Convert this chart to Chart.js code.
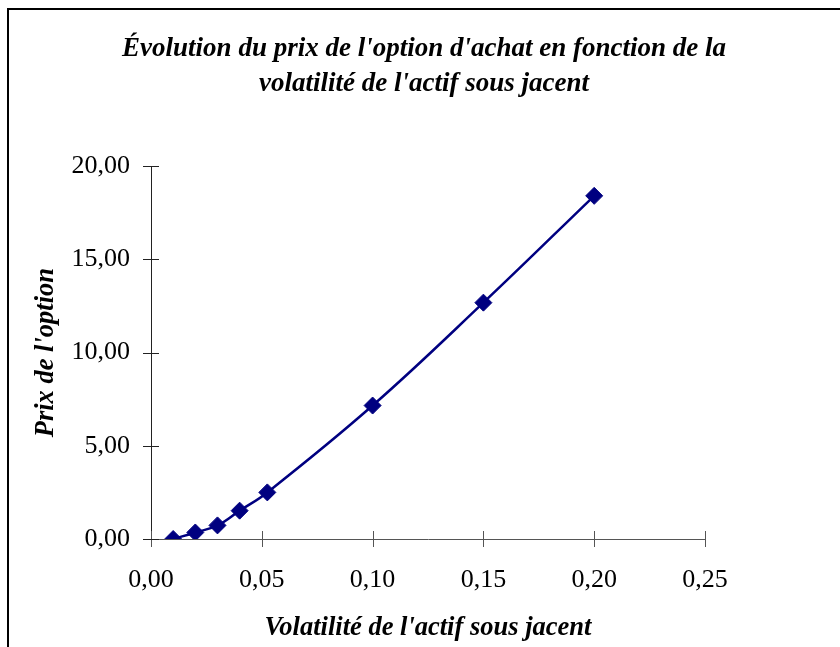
<!DOCTYPE html>
<html lang="fr">
<head>
<meta charset="utf-8">
<title>Évolution du prix de l'option d'achat</title>
<script src="https://cdn.jsdelivr.net/npm/chart.js@4/dist/chart.umd.min.js"></script>
<style>
  html, body { margin: 0; padding: 0; background: #fff; overflow: hidden; }
  #wrap { position: relative; width: 840px; height: 647px; }
  #frame {
    position: absolute; left: 7px; top: 8px; width: 1000px; height: 1000px;
    border-left: 2px solid #000; border-top: 2px solid #000;
  }
  #chartBox { position: absolute; left: 0; top: 0; width: 840px; height: 647px; }
</style>
</head>
<body>
<div id="wrap">
  <div id="frame"></div>
  <div id="chartBox"><canvas id="optionChart"></canvas></div>
</div>
<script>
// ==============================
// DATA
// ==============================
const titre = ["Évolution du prix de l'option d'achat en fonction de la", "volatilité de l'actif sous jacent"];
const titreX = "Volatilité de l'actif sous jacent";
const titreY = "Prix de l'option";

const volatilite = [0.01, 0.02, 0.03, 0.04, 0.0525, 0.10, 0.15, 0.20];
const prix = [0.00, 0.35, 0.73, 1.52, 2.50, 7.16, 12.68, 18.41];

const ticksX = [0, 0.05, 0.10, 0.15, 0.20, 0.25];
const ticksY = [0, 5, 10, 15, 20];

// ==============================
// STYLE
// ==============================
const SERIF = "'Liberation Serif', 'Times New Roman', serif";
const NAVY = "#000080";

const fmt = v => Number(v).toFixed(2).replace(".", ",");

// ticks that cross the axis line (Excel "cross" style)
const crossTicks = {
  id: "crossTicks",
  beforeDatasetsDraw(chart) {
    const { ctx, scales } = chart;
    const len = 8;
    ctx.save();
    ctx.lineWidth = 1;

    const x = scales.x, y = scales.y;
    const y0 = y.getPixelForValue(0);
    const x0 = x.getPixelForValue(0);

    ctx.strokeStyle = "#555";
    ticksX.forEach(v => {
      const px = Math.round(x.getPixelForValue(v)) + 0.5;
      ctx.beginPath();
      ctx.moveTo(px, y0 - len);
      ctx.lineTo(px, y0 + len);
      ctx.stroke();
    });

    ctx.strokeStyle = "#222";
    ticksY.forEach(v => {
      const py = Math.round(y.getPixelForValue(v)) + 0.5;
      ctx.beginPath();
      ctx.moveTo(x0 - len, py);
      ctx.lineTo(x0 + len, py);
      ctx.stroke();
    });
    ctx.restore();
  }
};

// ==============================
// CHART
// ==============================
const ctx = document.getElementById("optionChart").getContext("2d");

new Chart(ctx, {
  type: "scatter",
  data: {
    datasets: [{
      label: titreY,
      data: volatilite.map((v, i) => ({ x: v, y: prix[i] })),
      showLine: true,
      borderColor: NAVY,
      backgroundColor: NAVY,
      borderWidth: 2.5,
      tension: 0.4,
      pointStyle: "rectRot",
      pointRadius: 8.5,
      pointBorderWidth: 1,
      pointBorderColor: NAVY,
      pointBackgroundColor: NAVY
    }]
  },
  options: {
    responsive: true,
    maintainAspectRatio: false,
    animation: false,
    layout: { padding: { left: 8, right: 0, top: 0, bottom: 0 } },
    plugins: {
      legend: { display: false },
      tooltip: { enabled: false },
      title: {
        display: true,
        text: titre,
        color: "#000",
        font: { family: SERIF, size: 27, style: "italic", weight: "bold", lineHeight: 1.3 },
        padding: { top: 31, bottom: 65 }
      }
    },
    scales: {
      x: {
        type: "linear",
        min: 0,
        max: 0.25,
        afterBuildTicks: s => { s.ticks = ticksX.map(v => ({ value: v })); },
        afterFit: s => { s.height = 108; },
        grid: { display: false },
        border: { display: true, color: "#555", width: 1 },
        ticks: {
          color: "#000",
          padding: 18,
          font: { family: SERIF, size: 26 },
          maxRotation: 0,
          callback: v => fmt(v)
        },
        title: {
          display: true,
          text: titreX,
          color: "#000",
          font: { family: SERIF, size: 26.5, style: "italic", weight: "bold" },
          padding: { top: 3, bottom: 3 }
        }
      },
      y: {
        type: "linear",
        min: 0,
        max: 20,
        afterBuildTicks: s => { s.ticks = ticksY.map(v => ({ value: v })); },
        afterFit: s => { s.width = 143; },
        grid: { display: false },
        border: { display: true, color: "#222", width: 1 },
        ticks: {
          color: "#000",
          padding: 13,
          font: { family: SERIF, size: 26 },
          callback: v => fmt(v)
        },
        title: {
          display: true,
          text: titreY,
          color: "#000",
          font: { family: SERIF, size: 26.5, style: "italic", weight: "bold" },
          padding: { top: 22, bottom: 22 }
        }
      },
      y2: {
        type: "linear",
        position: "right",
        display: true,
        afterFit: s => { s.width = 135; },
        grid: { display: false },
        border: { display: false },
        ticks: { display: false }
      }
    }
  },
  plugins: [crossTicks]
});
</script>
</body>
</html>
